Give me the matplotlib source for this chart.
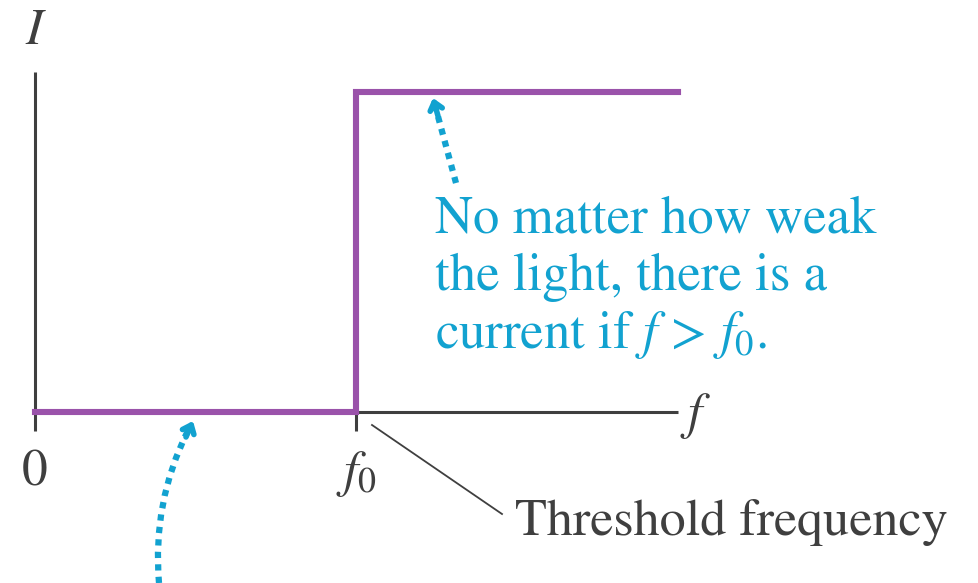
import matplotlib
matplotlib.use("Agg")
import matplotlib.pyplot as plt
from matplotlib.patches import FancyArrowPatch

plt.rcParams['font.family'] = ['STIXGeneral', 'Liberation Serif', 'DejaVu Serif']
plt.rcParams['mathtext.fontset'] = 'stix'

# Data
f_vals = [0.0, 1.0, 1.0, 2.0]      # frequency (f0 = 1)
I_vals = [0.0, 0.0, 1.0, 1.0]      # current
f_axis_end = 2.0
I_axis_top = 1.0625
tick_pos = [0.0, 1.0]
tick_labels = ['0', '$f_0$']

PURPLE = '#9a52aa'
CYAN = '#12a2d0'
DARK = '#3f3f3f'

W, H = 979, 583
fig = plt.figure(figsize=(W / 100, H / 100), dpi=100)
ax = fig.add_axes([0, 0, 1, 1])
# pixel mapping: f=0 -> x=35, f=1 -> x=356.5 ; I=0 -> y=412, I=1 -> y=92
sx, ox = 321.5, 35
sy, oy = 320, 412
ax.set_xlim((0 - ox) / sx, (W - ox) / sx)
ax.set_ylim((oy - H) / sy, oy / sy)
ax.axis('off')


def P(px, py):
    return ((px - ox) / sx, (oy - py) / sy)


# axes
ax.plot([0, f_axis_end], [0, 0], color=DARK, lw=2.2, solid_capstyle='butt', zorder=1)
ax.plot([0, 0], [0, I_axis_top], color=DARK, lw=2.2, solid_capstyle='butt', zorder=1)
for t, lab in zip(tick_pos, tick_labels):
    ax.plot([t, t], [0, -19 / sy], color=DARK, lw=2.2, solid_capstyle='butt', zorder=1)
    ax.text(t, -74 / sy, lab, ha='center', va='baseline', fontsize=37, color=DARK)

# step curve
ax.plot(f_vals, I_vals, color=PURPLE, lw=4.4, solid_joinstyle='miter', zorder=3)

# axis labels
ax.text(*P(36, 44), '$I$', ha='center', va='baseline', fontsize=37, color=DARK)
ax.text(*P(696, 428), '$f$', ha='center', va='baseline', fontsize=37, color=DARK)

# annotation text
lines = ['No matter how weak', 'the light, there is a', 'current if $f$ > $f_0$.']
for i, s in enumerate(lines):
    ax.text(*P(435, 232 + 58 * i), s, ha='left', va='baseline',
            fontsize=38, color=CYAN)

ax.text(*P(515, 535), 'Threshold frequency', ha='left', va='baseline',
        fontsize=37.5, color=DARK)
ax.plot([P(372, 425)[0], P(502, 514)[0]], [P(372, 425)[1], P(502, 514)[1]],
        color=DARK, lw=1.3)


# dotted arrows
def dotted_arrow(tail, head, rad):
    a = FancyArrowPatch(P(*tail), P(*head), arrowstyle='-', connectionstyle=f'arc3,rad={rad}',
                        linestyle=(0, (1.0, 1.0)), lw=4.5, color=CYAN, capstyle='butt',
                        shrinkA=0, shrinkB=8)
    ax.add_patch(a)
    return a


dotted_arrow((456, 183), (433, 98), 0.0)
ax.annotate('', xy=P(433, 98), xytext=P(438, 116),
            arrowprops=dict(arrowstyle='->,head_length=0.55,head_width=0.45', color=CYAN, lw=4,
                            shrinkA=0, shrinkB=0))

dotted_arrow((159, 583), (193, 421), -0.15)
ax.annotate('', xy=P(193, 421), xytext=P(186, 437),
            arrowprops=dict(arrowstyle='->,head_length=0.55,head_width=0.45', color=CYAN, lw=4,
                            shrinkA=0, shrinkB=0))

fig.savefig('out.png', dpi=100)
